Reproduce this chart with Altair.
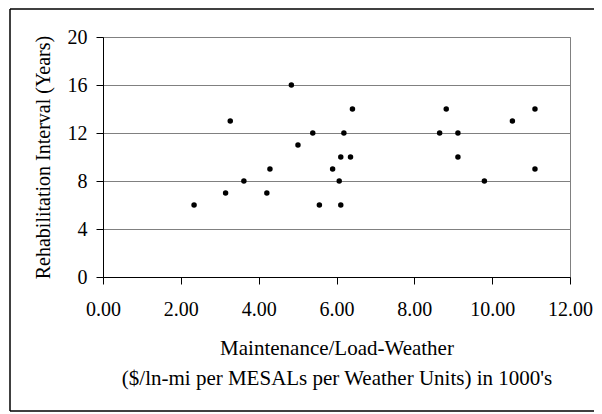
import altair as alt
import pandas as pd

# Data
cost = [2.34, 3.15, 3.27, 3.62, 4.21, 4.29, 4.84, 5.01, 5.39, 5.56, 5.90,
        6.07, 6.11, 6.11, 6.19, 6.36, 6.41, 8.65, 8.82, 9.12, 9.12, 9.80,
        10.52, 11.10, 11.10]
interval = [6, 7, 13, 8, 7, 9, 16, 11, 12, 6, 9,
            8, 6, 10, 12, 10, 14, 12, 14, 12, 10, 8,
            13, 14, 9]

x_ticks = [0, 2, 4, 6, 8, 10, 12]
y_ticks = [0, 4, 8, 12, 16, 20]

df = pd.DataFrame({"cost": cost, "interval": interval})

FONT = "Liberation Serif"

points = alt.Chart(df).mark_circle(size=30, color="black", opacity=1).encode(
    x=alt.X("cost:Q",
            scale=alt.Scale(domain=[0, 12], nice=False, zero=False),
            axis=alt.Axis(values=x_ticks, format=".2f", grid=False,
                          labelFlush=False,
                          tickSize=7, labelPadding=15, titlePadding=18,
                          titleLineHeight=30, titleFontSize=21,
                          title=["Maintenance/Load-Weather",
                                 "($/ln-mi per MESALs per Weather Units) in 1000's"])),
    y=alt.Y("interval:Q",
            scale=alt.Scale(domain=[0, 20], nice=False),
            axis=alt.Axis(values=y_ticks, grid=True, gridColor="#808080",
                          gridWidth=1, tickSize=7, labelPadding=9,
                          titlePadding=14, titleFontSize=20,
                          title="Rehabilitation Interval (Years)")),
)

frame_data = alt.Data(values=[{"k": 1}])
left_line = alt.Chart(frame_data).mark_rule(color="black", strokeWidth=1.5).encode(
    x=alt.value(-93), y=alt.value(-28), y2=alt.value(374))
top_line = alt.Chart(frame_data).mark_rule(color="black", strokeWidth=1.5).encode(
    x=alt.value(-93), x2=alt.value(495), y=alt.value(-28))
bottom_line = alt.Chart(frame_data).mark_rule(color="black", strokeWidth=1.5).encode(
    x=alt.value(-93), x2=alt.value(495), y=alt.value(374))

chart = alt.layer(points, left_line, top_line, bottom_line).properties(
    width=467, height=240,
    autosize="none",
    padding={"left": 95, "top": 29, "right": 24, "bottom": 137},
    background="white",
).configure_view(
    stroke="#808080", strokeWidth=1
).configure_axis(
    labelFont=FONT, labelFontSize=20, labelColor="black",
    titleFont=FONT, titleFontWeight="normal", titleColor="black",
    domainColor="black", tickColor="black", domainWidth=1, tickWidth=1,
)

chart.save("out.html", embed_options={"renderer": "svg", "actions": False})
